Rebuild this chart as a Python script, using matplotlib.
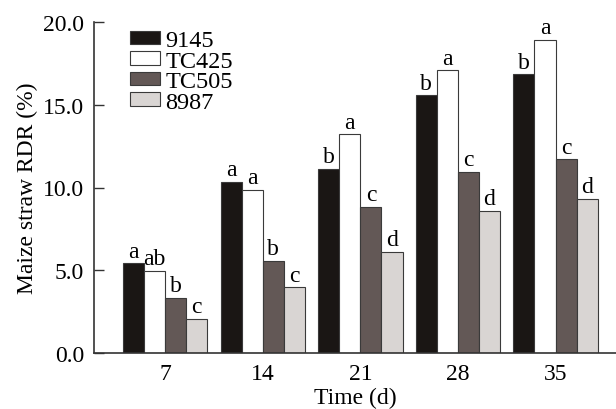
import matplotlib
matplotlib.use("Agg")
import matplotlib.pyplot as plt
import numpy as np

days = ["7", "14", "21", "28", "35"]
varieties = ["9145", "TC425", "TC505", "8987"]
rdr_9145 = [5.42, 10.34, 11.14, 15.56, 16.83]
rdr_tc425 = [4.98, 9.84, 13.21, 17.09, 18.93]
rdr_tc505 = [3.35, 5.56, 8.84, 10.96, 11.70]
rdr_8987 = [2.07, 3.96, 6.13, 8.60, 9.30]
letters_9145 = ["a", "a", "b", "b", "b"]
letters_tc425 = ["ab", "a", "a", "a", "a"]
letters_tc505 = ["b", "b", "c", "c", "c"]
letters_8987 = ["c", "c", "d", "d", "d"]

series = [rdr_9145, rdr_tc425, rdr_tc505, rdr_8987]
letters = [letters_9145, letters_tc425, letters_tc505, letters_8987]
colors = ["#1a1614", "#ffffff", "#635856", "#d9d5d3"]

plt.rcParams["font.family"] = ["Liberation Serif", "DejaVu Serif"]
plt.rcParams["font.size"] = 17

fig = plt.figure(figsize=(6.16, 4.10), dpi=100)
ax = fig.add_axes([94 / 616, 1 - 354 / 410, 1 - 94 / 616, 331 / 410])

x = np.arange(len(days))
w = 0.216
for i, (vals, labs, col, name) in enumerate(zip(series, letters, colors, varieties)):
    pos = x + (i - 1.5) * w
    ax.bar(pos, vals, width=w, color=col, edgecolor="#3a3a3a", linewidth=0.8, label=name)
    for p, v, t in zip(pos, vals, labs):
        ax.text(p, v + 0.1, t, ha="center", va="bottom", fontsize=17)

ax.set_xlim(-0.73, 4.62)
ax.set_ylim(0, 20)
ax.set_yticks([0, 5, 10, 15, 20])
ax.set_yticklabels([f"{v:.1f}" for v in [0, 5, 10, 15, 20]])
ax.set_xticks(x)
ax.set_xticklabels(days)
ax.tick_params(axis="x", length=0, pad=7)
ax.tick_params(axis="y", direction="in", length=7, width=1, pad=7, colors="#333333",
               labelcolor="black")
for s in ["top", "right"]:
    ax.spines[s].set_visible(False)
for s in ["left", "bottom"]:
    ax.spines[s].set_color("#333333")
    ax.spines[s].set_linewidth(1.2)

ax.set_xlabel("Time (d)", labelpad=2)
ax.set_ylabel("Maize straw RDR (%)", labelpad=4)

ax.legend(loc="upper left", bbox_to_anchor=(0.05, 1.005), frameon=False,
          handlelength=1.25, handleheight=0.5, handletextpad=0.2,
          labelspacing=-0.02, borderaxespad=0, fontsize=17.5)

fig.savefig("out.png", dpi=100)
